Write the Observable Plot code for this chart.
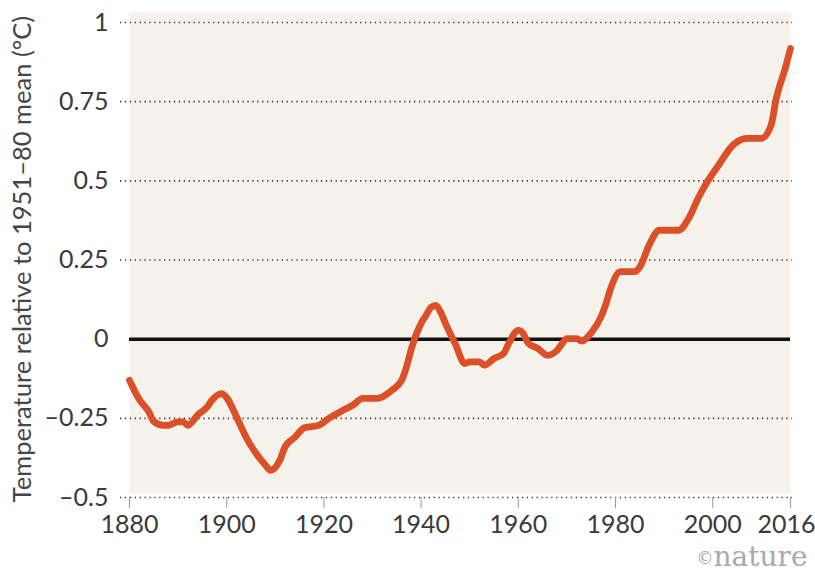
<!DOCTYPE html>
<html>
<head>
<meta charset="utf-8">
<script src="https://cdn.jsdelivr.net/npm/d3@7"></script>
<script src="https://cdn.jsdelivr.net/npm/@observablehq/plot@0.6"></script>
<style>
  html, body { margin: 0; padding: 0; background: #ffffff; }
</style>
</head>
<body>
<div id="chart"></div>
<script>
// Data
const years = [1880, 1882, 1884, 1885, 1887, 1888, 1890, 1891, 1892, 1894, 1896, 1897, 1899, 1900,
  1902, 1904, 1906, 1908, 1909, 1911, 1912, 1914, 1916, 1919, 1921, 1924, 1926, 1928, 1931, 1934,
  1936, 1937, 1938, 1940, 1941, 1942, 1943, 1944, 1945, 1947, 1949, 1950, 1952, 1953, 1955, 1957,
  1958, 1960, 1961, 1962, 1964, 1966, 1968, 1969, 1970, 1972, 1973, 1975, 1977, 1978, 1979, 1981,
  1984, 1985, 1987, 1989, 1993, 1995, 1997, 1999, 2001, 2004, 2005, 2007, 2010, 2012, 2013, 2015, 2016];
const anomalies = [-0.13, -0.19, -0.23, -0.26, -0.272, -0.272, -0.261, -0.261, -0.272, -0.24, -0.214, -0.192, -0.172, -0.185,
  -0.245, -0.31, -0.36, -0.398, -0.414, -0.38, -0.34, -0.31, -0.28, -0.272, -0.25, -0.224, -0.208, -0.187, -0.187, -0.161,
  -0.13, -0.087, -0.03, 0.05, 0.075, 0.1, 0.107, 0.086, 0.05, -0.014, -0.077, -0.072, -0.072, -0.082, -0.061, -0.045,
  -0.014, 0.028, 0.018, -0.012, -0.029, -0.051, -0.035, -0.014, 0.002, 0.002, -0.006, 0.02, 0.07, 0.11, 0.16, 0.213,
  0.213, 0.228, 0.3, 0.344, 0.344, 0.38, 0.445, 0.5, 0.545, 0.61, 0.623, 0.634, 0.634, 0.675, 0.755, 0.86, 0.918];

const xTicks = [1880, 1900, 1920, 1940, 1960, 1980, 2000];
const xLastTick = [2016];
const yTicks = [-0.5, -0.25, 0, 0.25, 0.5, 0.75, 1];
const yTickLabels = ["\u20130.5", "\u20130.25", "0", "0.25", "0.5", "0.75", "1"];
const gridTicks = yTicks.filter(d => d !== 0);
const yTitle = "Temperature relative to 1951\u201380 mean (\u00b0C)";

const data = years.map((year, i) => ({year, value: anomalies[i]}));

const axisStyle = {tickSize: 11, tickPadding: 7, tickFormat: (d) => String(d), stroke: "#9a9a9a", fontSize: 25, fill: "#3a3a3a", label: null};

const chart = Plot.plot({
  width: 815,
  height: 573,
  marginLeft: 129,
  marginRight: 25,
  marginTop: 22,
  marginBottom: 76,
  style: {fontFamily: "Lato, 'Open Sans', sans-serif", fontSize: "25px", color: "#3a3a3a", background: "#ffffff"},
  x: {domain: [1880, 2016]},
  y: {domain: [-0.5, 1]},
  marks: [
    Plot.frame({fill: "#f4f2eb", stroke: null, insetTop: -10, insetBottom: 4}),
    Plot.ruleY(gridTicks, {stroke: "#3a3a3a", strokeWidth: 1.6, strokeDasharray: "1.3,3.6", insetLeft: -9, insetRight: -2}),
    Plot.ruleY([0], {stroke: "#111", strokeWidth: 3.5}),
    Plot.axisY({ticks: yTicks, tickSize: 0, tickPadding: 21, tickFormat: (d) => yTickLabels[yTicks.indexOf(d)], fontSize: 25, fill: "#3a3a3a", label: null}),
    Plot.axisX({ticks: xTicks, ...axisStyle}),
    Plot.axisX({ticks: xLastTick, ...axisStyle, tickFormat: () => ""}),
    Plot.axisX({ticks: xLastTick, ...axisStyle, tickSize: 0, tickPadding: 18, dx: -4}),
    Plot.line(data, {x: "year", y: "value", stroke: "#dc5029", strokeWidth: 6.8, curve: "monotone-x", strokeLinejoin: "round", strokeLinecap: "round"}),
    Plot.text([yTitle], {frameAnchor: "left", textAnchor: "middle", rotate: -90, dx: -107, dy: -1, fontSize: 25.5, fill: "#454545"}),
    Plot.text(["nature"], {frameAnchor: "bottom-right", dx: 17, dy: 68, textAnchor: "end", lineAnchor: "bottom", fontFamily: "'DejaVu Serif', serif", fontSize: 28, fill: "#a9a9a9"}),
    Plot.text(["\u00a9"], {frameAnchor: "bottom-right", dx: -77, dy: 66, textAnchor: "end", lineAnchor: "bottom", fontFamily: "'DejaVu Sans', sans-serif", fontSize: 17, fill: "#a9a9a9"})
  ]
});
document.getElementById("chart").appendChild(chart);
</script>
</body>
</html>
